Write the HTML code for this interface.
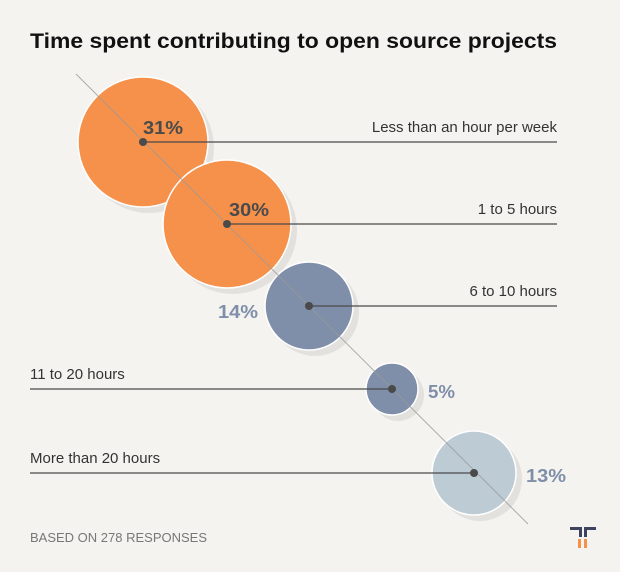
<!DOCTYPE html>
<html><head><style>
body{margin:0;background:#f4f3ef;}
svg{display:block;font-family:"Liberation Sans",sans-serif;}
</style></head><body>
<svg width="620" height="572" viewBox="0 0 620 572">
<rect width="620" height="572" fill="#f4f3ef"/>
<text x="30" y="48" font-size="21" font-weight="bold" fill="#111" textLength="527" lengthAdjust="spacingAndGlyphs">Time spent contributing to open source projects</text>
<g fill="#e2e1dd">
<circle cx="149" cy="148" r="65"/>
<circle cx="233" cy="230" r="64"/>
<circle cx="315" cy="312" r="44"/>
<circle cx="398" cy="395" r="26"/>
<circle cx="480" cy="479" r="42"/>
</g>
<g stroke="#fff" stroke-width="1.5">
<circle cx="143" cy="142" r="65" fill="#f6914b"/>
<circle cx="227" cy="224" r="64" fill="#f6914b"/>
<circle cx="309" cy="306" r="44" fill="#7f8ea9"/>
<circle cx="392" cy="389" r="26" fill="#7f8ea9"/>
<circle cx="474" cy="473" r="42" fill="#bccbd4"/>
</g>
<line x1="76" y1="74" x2="528" y2="524" stroke="#9a9a9a" stroke-width="1" opacity="0.8"/>
<g stroke="#4a4a4a" stroke-width="1.3">
<line x1="143" y1="142" x2="557" y2="142"/>
<line x1="227" y1="224" x2="557" y2="224"/>
<line x1="309" y1="306" x2="557" y2="306"/>
<line x1="30" y1="389" x2="392" y2="389"/>
<line x1="30" y1="473" x2="474" y2="473"/>
</g>
<g fill="#4a4a4a">
<circle cx="143" cy="142" r="4"/>
<circle cx="227" cy="224" r="4"/>
<circle cx="309" cy="306" r="4"/>
<circle cx="392" cy="389" r="4"/>
<circle cx="474" cy="473" r="4"/>
</g>
<g font-size="18" font-weight="bold">
<text x="143" y="134" fill="#4a4a4a" textLength="40" lengthAdjust="spacingAndGlyphs">31%</text>
<text x="229" y="216" fill="#4a4a4a" textLength="40" lengthAdjust="spacingAndGlyphs">30%</text>
<text x="218" y="318" fill="#7f8ea9" textLength="40" lengthAdjust="spacingAndGlyphs">14%</text>
<text x="428" y="398" fill="#7f8ea9" textLength="27" lengthAdjust="spacingAndGlyphs">5%</text>
<text x="526" y="482" fill="#7f8ea9" textLength="40" lengthAdjust="spacingAndGlyphs">13%</text>
</g>
<g font-size="15" fill="#333">
<text x="557" y="132" text-anchor="end">Less than an hour per week</text>
<text x="557" y="214" text-anchor="end">1 to 5 hours</text>
<text x="557" y="296" text-anchor="end">6 to 10 hours</text>
<text x="30" y="379">11 to 20 hours</text>
<text x="30" y="463">More than 20 hours</text>
</g>
<text x="30" y="542" font-size="13" fill="#777">BASED ON 278 RESPONSES</text>
<g>
<path d="M570 527h12v10h-3v-7h-9z" fill="#3e4460"/>
<path d="M596 527h-12v10h3v-7h9z" fill="#3e4460"/>
<rect x="578" y="539" width="3" height="9" fill="#f6914b"/>
<rect x="584" y="539" width="3" height="9" fill="#f6914b"/>
</g>
</svg>
</body></html>
